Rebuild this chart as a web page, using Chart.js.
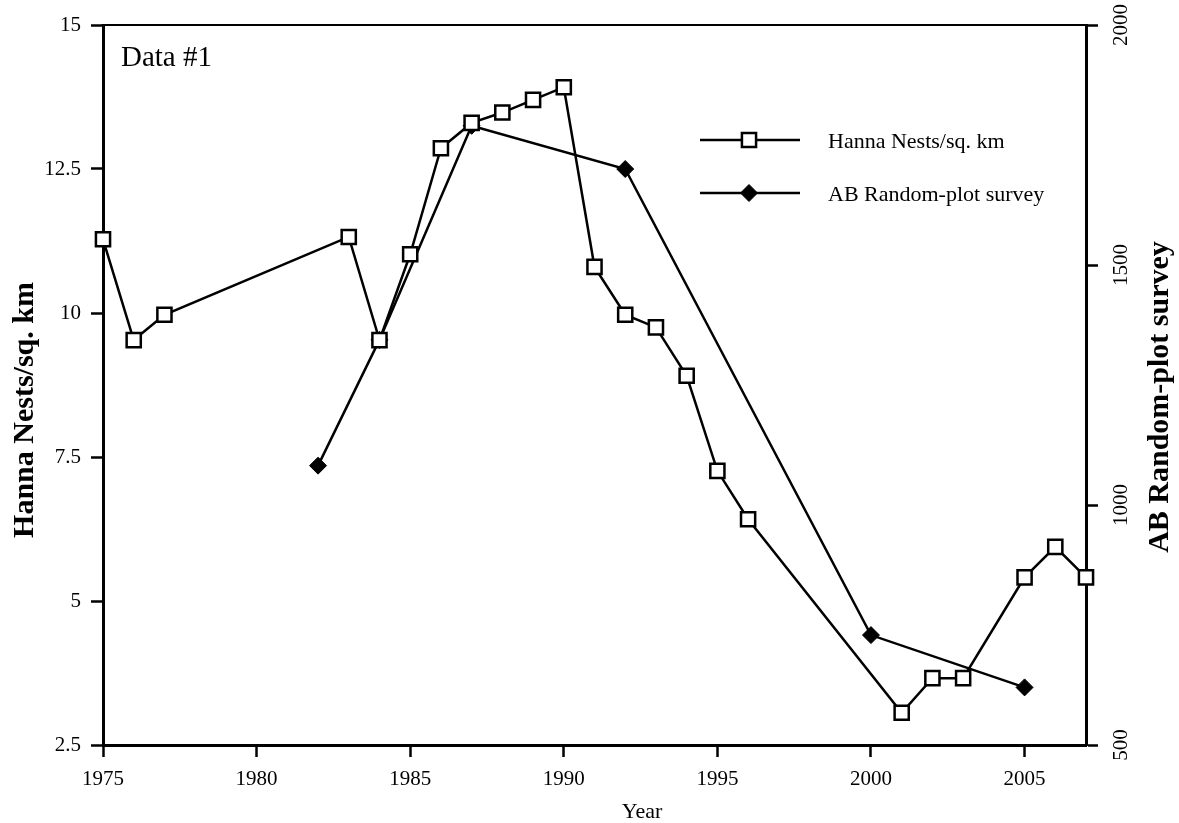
<!DOCTYPE html>
<html>
<head>
<meta charset="utf-8">
<script src="https://cdn.jsdelivr.net/npm/chart.js@4.4.1/dist/chart.umd.min.js"></script>
<style>
    html, body { margin: 0; padding: 0; background: #fff; }
    #wrap { width: 1179px; height: 823px; position: relative; }
</style>
</head>
<body>
<div id="wrap"><canvas id="nestChart"></canvas></div>
<script>
// Hanna nest density (left axis)
const hannaYears = [1975, 1976, 1977, 1983, 1984, 1985, 1986, 1987, 1988, 1989, 1990, 1991,
                    1992, 1993, 1994, 1995, 1996, 2001, 2002, 2003, 2005, 2006, 2007];
const hannaValues = [11.28, 9.53, 9.97, 11.32, 9.53, 11.02, 12.86, 13.30, 13.48, 13.70, 13.92, 10.80,
                     9.97, 9.75, 8.91, 7.26, 6.42, 3.06, 3.66, 3.66, 5.41, 5.94, 5.41];

// AB random-plot survey (right axis)
const surveyYears = [1982, 1984, 1987, 1992, 2000, 2005];
const surveyValues = [1082, 1344, 1790, 1700, 729, 620];

// axis ranges / tick steps
const yearRange = [1975, 2007];
const yearStep = 5;
const leftRange = [2.5, 15];
const leftStep = 2.5;
const rightRange = [500, 2000];
const rightStep = 500;

const FONT = "'Liberation Serif', 'Times New Roman', serif";
Chart.defaults.font.family = FONT;
Chart.defaults.color = '#000';

const toPoints = (xs, ys) => xs.map((x, i) => ({ x: x, y: ys[i] }));

// Extra drawing: top frame line, right tick labels, axis titles, panel label and legend
const decorations = {
    id: 'decorations',
    afterDraw(chart) {
        const ctx = chart.ctx;
        const area = chart.chartArea;
        ctx.save();

        // top frame
        ctx.strokeStyle = '#000';
        ctx.lineWidth = 2;
        ctx.beginPath();
        ctx.moveTo(area.left - 1.5, area.top);
        ctx.lineTo(area.right + 1.5, area.top);
        ctx.stroke();

        ctx.fillStyle = '#000';

        // right axis tick labels, rotated
        const r = chart.scales.y2;
        ctx.font = '21px ' + FONT;
        ctx.textAlign = 'center';
        ctx.textBaseline = 'alphabetic';
        r.ticks.forEach(t => {
            const y = r.getPixelForValue(t.value);
            ctx.save();
            ctx.translate(1127, y);
            ctx.rotate(-Math.PI / 2);
            ctx.fillText(t.label, 0, 0);
            ctx.restore();
        });

        // axis titles
        ctx.font = '22px ' + FONT;
        ctx.fillText('Year', 642, 818);

        ctx.font = 'bold 30px ' + FONT;
        ctx.save();
        ctx.translate(33, 410);
        ctx.rotate(-Math.PI / 2);
        ctx.fillText('Hanna Nests/sq. km', 0, 0);
        ctx.restore();

        ctx.save();
        ctx.translate(1168, 397);
        ctx.rotate(-Math.PI / 2);
        ctx.fillText('AB Random-plot survey', 0, 0);
        ctx.restore();

        // panel label
        ctx.font = '29px ' + FONT;
        ctx.textAlign = 'left';
        ctx.fillText('Data #1', area.left + 18, area.top + 41);

        // legend
        const rows = [140, 193];
        chart.data.datasets.forEach((ds, i) => {
            const y = rows[i];
            ctx.strokeStyle = '#000';
            ctx.lineWidth = ds.borderWidth;
            ctx.beginPath();
            ctx.moveTo(700, y);
            ctx.lineTo(800, y);
            ctx.stroke();
            ctx.fillStyle = ds.pointBackgroundColor;
            ctx.strokeStyle = ds.pointBorderColor;
            ctx.lineWidth = ds.pointBorderWidth;
            Chart.helpers.drawPoint(ctx, {
                pointStyle: ds.pointStyle,
                radius: ds.pointRadius,
                rotation: 0,
                borderWidth: ds.pointBorderWidth
            }, 749, y);
            ctx.fillStyle = '#000';
            ctx.font = '22px ' + FONT;
            ctx.textBaseline = 'alphabetic';
            ctx.fillText(ds.label, 828, y + 7.5);
        });

        ctx.restore();
    }
};

const axisGrid = {
    drawOnChartArea: false,
    drawTicks: true,
    tickLength: 12,
    tickWidth: 2.5,
    tickColor: '#000'
};
const axisBorder = { display: true, width: 3, color: '#000' };

const ctx = document.getElementById('nestChart').getContext('2d');
new Chart(ctx, {
    type: 'line',
    data: {
        datasets: [{
            label: 'Hanna Nests/sq. km',
            data: toPoints(hannaYears, hannaValues),
            yAxisID: 'y',
            borderColor: '#000',
            borderWidth: 2.5,
            pointStyle: 'rect',
            pointRadius: 10,
            pointBackgroundColor: '#fff',
            pointBorderColor: '#000',
            pointBorderWidth: 2.5,
            tension: 0,
            clip: false
        }, {
            label: 'AB Random-plot survey',
            data: toPoints(surveyYears, surveyValues),
            yAxisID: 'y2',
            borderColor: '#000',
            borderWidth: 2.5,
            pointStyle: 'rectRot',
            pointRadius: 8.5,
            pointBackgroundColor: '#000',
            pointBorderColor: '#000',
            pointBorderWidth: 1,
            tension: 0,
            clip: false
        }]
    },
    options: {
        responsive: true,
        maintainAspectRatio: false,
        animation: false,
        events: [],
        layout: { padding: { top: 25, left: 0, right: 0, bottom: 0 } },
        plugins: {
            legend: { display: false },
            tooltip: { enabled: false }
        },
        scales: {
            x: {
                type: 'linear',
                position: 'bottom',
                min: yearRange[0],
                max: yearRange[1],
                afterFit: s => { s.height = 78; },
                ticks: {
                    stepSize: yearStep,
                    includeBounds: false,
                    autoSkip: false,
                    maxRotation: 0,
                    callback: v => String(v),
                    font: { size: 21 },
                    padding: 10
                },
                grid: axisGrid,
                border: axisBorder
            },
            y: {
                position: 'left',
                min: leftRange[0],
                max: leftRange[1],
                afterFit: s => { s.width = 103; },
                ticks: {
                    stepSize: leftStep,
                    callback: v => String(v),
                    font: { size: 21 },
                    padding: 10
                },
                grid: axisGrid,
                border: axisBorder
            },
            y2: {
                position: 'right',
                min: rightRange[0],
                max: rightRange[1],
                afterFit: s => { s.width = 93; },
                ticks: {
                    stepSize: rightStep,
                    display: false,
                    callback: v => String(v)
                },
                grid: axisGrid,
                border: axisBorder
            }
        }
    },
    plugins: [decorations]
});
</script>
</body>
</html>
